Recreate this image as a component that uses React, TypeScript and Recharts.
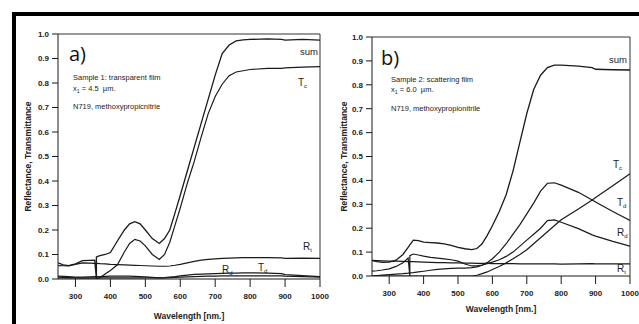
import { LineChart, Line, XAxis, YAxis, ReferenceLine } from "recharts";

// panel a) sample 1, transparent film
const aWl = [250, 265, 280, 300, 320, 340, 355, 360, 360, 370, 385, 400, 420, 440, 455, 470, 485, 500, 520, 540, 555, 570, 585, 600, 620, 640, 660, 680, 700, 720, 740, 760, 780, 800, 850, 890, 900, 950, 1000];
const aSum = [0.066, 0.058, 0.055, 0.062, 0.075, 0.076, 0.077, 0.0, 0.09, 0.095, 0.1, 0.108, 0.155, 0.2, 0.225, 0.234, 0.225, 0.2, 0.165, 0.145, 0.165, 0.2, 0.27, 0.342, 0.44, 0.538, 0.636, 0.734, 0.832, 0.92, 0.955, 0.972, 0.976, 0.978, 0.98, 0.978, 0.975, 0.978, 0.975];
const aTc = [0.0, 0.0, 0.0, 0.0, 0.0, 0.0, 0.0, 0.0, 0.0, 0.005, 0.02, 0.035, 0.058, 0.11, 0.145, 0.162, 0.155, 0.135, 0.1, 0.08, 0.1, 0.15, 0.22, 0.29, 0.39, 0.48, 0.58, 0.675, 0.745, 0.795, 0.83, 0.845, 0.85, 0.855, 0.86, 0.86, 0.862, 0.865, 0.867];
const aRt = [0.055, 0.054, 0.053, 0.06, 0.066, 0.065, 0.064, 0.064, 0.064, 0.063, 0.062, 0.06, 0.059, 0.058, 0.057, 0.056, 0.055, 0.054, 0.053, 0.052, 0.052, 0.053, 0.056, 0.06, 0.066, 0.072, 0.077, 0.08, 0.082, 0.084, 0.085, 0.086, 0.087, 0.087, 0.087, 0.086, 0.084, 0.085, 0.084];
const aTd = [0.008, 0.007, 0.006, 0.005, 0.005, 0.005, 0.005, 0.005, 0.005, 0.005, 0.005, 0.005, 0.005, 0.005, 0.005, 0.005, 0.005, 0.005, 0.005, 0.005, 0.006, 0.008, 0.01, 0.013, 0.016, 0.019, 0.02, 0.021, 0.022, 0.023, 0.024, 0.024, 0.025, 0.025, 0.024, 0.022, 0.018, 0.014, 0.01];
const aRd = [0.012, 0.011, 0.01, 0.008, 0.008, 0.009, 0.01, 0.01, 0.01, 0.01, 0.011, 0.012, 0.012, 0.012, 0.012, 0.011, 0.01, 0.009, 0.007, 0.005, 0.005, 0.006, 0.007, 0.008, 0.009, 0.01, 0.011, 0.012, 0.012, 0.013, 0.013, 0.013, 0.013, 0.013, 0.013, 0.013, 0.012, 0.01, 0.008];

// panel b) sample 2, scattering film
const bWl = [250, 265, 280, 300, 320, 340, 355, 360, 360, 370, 385, 400, 420, 440, 460, 480, 500, 520, 540, 555, 570, 585, 600, 620, 640, 660, 680, 700, 720, 740, 760, 780, 800, 850, 890, 900, 950, 1000];
const bSum = [0.065, 0.06, 0.057, 0.058, 0.066, 0.09, 0.12, 0.13, 0.13, 0.15, 0.148, 0.142, 0.14, 0.138, 0.134, 0.128, 0.12, 0.114, 0.11, 0.115, 0.135, 0.17, 0.21, 0.27, 0.34, 0.44, 0.56, 0.68, 0.78, 0.84, 0.872, 0.882, 0.882, 0.878, 0.872, 0.865, 0.863, 0.862];
const bTc = [0.0, 0.0, 0.0, 0.0, 0.0, 0.0, 0.0, 0.0, 0.0, 0.0, 0.0, 0.0, 0.0, 0.0, 0.0, 0.0, 0.0, 0.0, 0.0, 0.003, 0.01, 0.017, 0.027, 0.04, 0.055, 0.072, 0.09, 0.11, 0.135, 0.16, 0.185, 0.21, 0.235, 0.28, 0.318, 0.328, 0.378, 0.428];
const bTd = [0.0, 0.002, 0.004, 0.006, 0.008, 0.01, 0.012, 0.013, 0.013, 0.014, 0.017, 0.02, 0.024, 0.028, 0.03, 0.032, 0.033, 0.033, 0.035, 0.038, 0.045, 0.056, 0.072, 0.1, 0.135, 0.175, 0.215, 0.26, 0.305, 0.355, 0.388, 0.39, 0.38, 0.35, 0.318, 0.31, 0.27, 0.232];
const bRd = [0.02, 0.022, 0.025, 0.03, 0.04, 0.055, 0.075, 0.0, 0.085, 0.092, 0.088, 0.083, 0.078, 0.075, 0.072, 0.068, 0.062, 0.05, 0.042, 0.042, 0.046, 0.052, 0.058, 0.068, 0.082, 0.1, 0.125, 0.15, 0.175, 0.2, 0.232, 0.235, 0.225, 0.198, 0.172, 0.167, 0.145, 0.125];
const bRt = [0.065, 0.064, 0.063, 0.062, 0.062, 0.061, 0.06, 0.06, 0.06, 0.06, 0.059, 0.058, 0.057, 0.056, 0.056, 0.055, 0.055, 0.054, 0.054, 0.053, 0.053, 0.053, 0.052, 0.052, 0.052, 0.052, 0.051, 0.051, 0.051, 0.051, 0.051, 0.051, 0.05, 0.051, 0.052, 0.051, 0.051, 0.051];

const xTicks = [300, 400, 500, 600, 700, 800, 900, 1000];
const yTicks = [0, 0.1, 0.2, 0.3, 0.4, 0.5, 0.6, 0.7, 0.8, 0.9, 1.0];

const aRows = aWl.map((wl, i) => ({ wl, sum: aSum[i], tc: aTc[i], rt: aRt[i], td: aTd[i], rd: aRd[i] }));
const bRows = bWl.map((wl, i) => ({ wl, sum: bSum[i], tc: bTc[i], rt: bRt[i], td: bTd[i], rd: bRd[i] }));

const ink = "#1a1a1a";
const tickStyle = { fill: "#222", fontSize: 8, fontWeight: "bold", fontFamily: "Liberation Sans, Arial, sans-serif" };
const axisLabelStyle = { fill: "#222", fontSize: 8.5, fontWeight: "bold", fontFamily: "Liberation Sans, Arial, sans-serif", textAnchor: "middle" as const };

const Panel = ({ rows, width, top, right, yAxisW, xAxisH, xLabelOffset, yLabelOffset }: any) => (
  <LineChart width={width} height={324} data={rows} margin={{ top, right, bottom: 0, left: 0 }}>
    <XAxis
      dataKey="wl"
      type="number"
      domain={[250, 1000]}
      ticks={xTicks}
      allowDataOverflow
      height={xAxisH}
      tickSize={8}
      tickMargin={6}
      tick={tickStyle}
      stroke={ink}
      label={{ value: "Wavelength [nm.]", position: "insideBottom", offset: xLabelOffset, style: axisLabelStyle }}
    />
    <YAxis
      type="number"
      domain={[0, 1]}
      ticks={yTicks}
      allowDataOverflow
      width={yAxisW}
      tickSize={6}
      tickMargin={3}
      tick={tickStyle}
      stroke={ink}
      tickFormatter={(v: number) => v.toFixed(1)}
      label={{ value: "Reflectance, Transmittance", angle: -90, position: "insideLeft", offset: yLabelOffset, style: axisLabelStyle }}
    />
    <ReferenceLine y={1} stroke="#333" />
    <ReferenceLine x={1000} stroke="#333" />
    <Line type="linear" dataKey="rt" stroke={ink} strokeWidth={1.2} dot={false} isAnimationActive={false} />
    <Line type="linear" dataKey="rd" stroke={ink} strokeWidth={1.2} dot={false} isAnimationActive={false} />
    <Line type="linear" dataKey="td" stroke={ink} strokeWidth={1.2} dot={false} isAnimationActive={false} />
    <Line type="linear" dataKey="tc" stroke={ink} strokeWidth={1.2} dot={false} isAnimationActive={false} />
    <Line type="linear" dataKey="sum" stroke={ink} strokeWidth={1.3} dot={false} isAnimationActive={false} />
  </LineChart>
);

const txt = (left: number, top: number, size: number, content: any, extra: any = {}) => (
  <div style={{ position: "absolute", left, top, fontSize: size, lineHeight: 1, color: "#222", whiteSpace: "nowrap", ...extra }}>{content}</div>
);

const sub = (main: string, s: string) => (
  <span>{main}<sub style={{ fontSize: "0.6em", verticalAlign: "-0.35em" }}>{s}</sub></span>
);

export default function App() {
  return (
    <div style={{ position: "absolute", left: 0, top: 0, width: 639, height: 324, background: "#fff", overflow: "hidden", fontFamily: "Liberation Sans, Arial, sans-serif" }}>
      <div style={{ position: "absolute", left: 12, top: 12, width: 640, height: 320, borderLeft: "4px solid #000", borderTop: "4px solid #000" }} />
      <div style={{ position: "absolute", left: 0, top: 0 }}>
        <Panel rows={aRows} width={330} top={34} right={10} yAxisW={58} xAxisH={45} xLabelOffset={5} yLabelOffset={28} />
      </div>
      <div style={{ position: "absolute", left: 320, top: 0 }}>
        <Panel rows={bRows} width={319} top={37} right={9} yAxisW={52} xAxisH={48} xLabelOffset={12} yLabelOffset={24} />
      </div>

      {txt(69, 44, 20, "a)", { fontFamily: "Open Sans, sans-serif", color: "#111" })}
      {txt(73, 74, 7.5, "Sample 1: transparent film")}
      {txt(73, 85, 7.5, <span>x<sub style={{ fontSize: "0.7em", verticalAlign: "-0.3em" }}>1</sub> = 4.5&nbsp;&nbsp;µm.</span>)}
      {txt(73, 103, 7.5, "N719, methoxypropicnitrie")}

      {txt(381, 48, 20, "b)", { fontFamily: "Open Sans, sans-serif", color: "#111" })}
      {txt(391, 76, 7.5, "Sample 2: scattering film")}
      {txt(391, 86, 7.5, <span>x<sub style={{ fontSize: "0.7em", verticalAlign: "-0.3em" }}>1</sub> = 6.0&nbsp;&nbsp;µm.</span>)}
      {txt(391, 105, 7.5, "N719, methoxypropionitrile")}

      {txt(300, 47, 9.5, "sum")}
      {txt(298, 78, 10, sub("T", "c"))}
      {txt(303, 242, 10, sub("R", "t"))}
      {txt(258, 263, 10, sub("T", "d"))}
      {txt(222, 265, 10, sub("R", "d"))}

      {txt(609, 55, 9.5, "sum")}
      {txt(613, 160, 10, sub("T", "c"))}
      {txt(617, 198, 10, sub("T", "d"))}
      {txt(617, 228, 10, sub("R", "d"))}
      {txt(617, 264, 10, sub("R", "t"))}
    </div>
  );
}
